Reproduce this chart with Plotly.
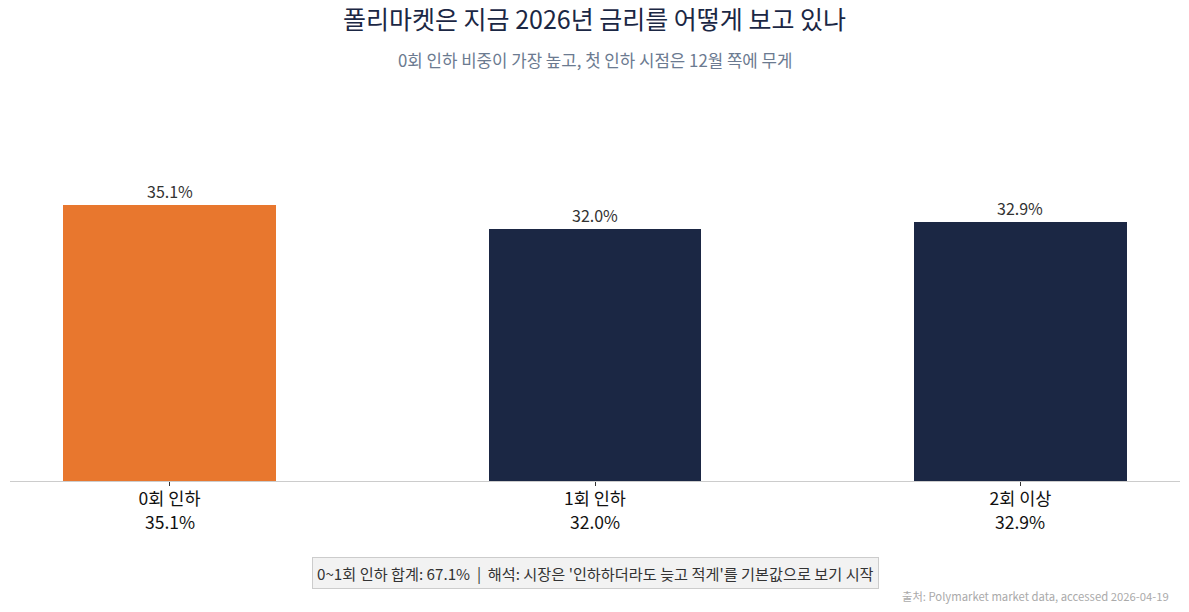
import plotly.graph_objects as go

categories = ["0회 인하", "1회 인하", "2회 이상"]
values = [35.1, 32.0, 32.9]
bar_colors = ["#E8772E", "#1B2744", "#1B2744"]
value_labels = [f"{v:.1f}%" for v in values]

title = "폴리마켓은 지금 2026년 금리를 어떻게 보고 있나"
subtitle = "0회 인하 비중이 가장 높고, 첫 인하 시점은 12월 쪽에 무게"
note = "0~1회 인하 합계: 67.1%  |  해석: 시장은 '인하하더라도 늦고 적게'를 기본값으로 보기 시작"
source = "출처: Polymarket market data, accessed 2026-04-19"

FONT = "Noto Sans CJK KR"
x = list(range(len(categories)))

fig = go.Figure()
fig.add_trace(go.Bar(
    x=x, y=values, width=0.5,
    marker=dict(color=bar_colors, line=dict(width=0)),
    hoverinfo="skip",
))

for xi, v, lab in zip(x, values, value_labels):
    fig.add_annotation(x=xi, y=v, text=lab, showarrow=False,
                       yanchor="bottom", yshift=0,
                       font=dict(family=FONT, size=16, color="#333333"))
    # second line of the category tick label (value)
    fig.add_annotation(x=xi, xref="x", yref="paper", y=1 - (521 - 136) / 345, text=lab,
                       showarrow=False, xanchor="center", yanchor="middle",
                       font=dict(family=FONT, size=17.5, color="#111111"))

fig.add_annotation(xref="paper", yref="paper", x=0.5, y=1 + (136 - 60) / 345, text=subtitle,
                   showarrow=False, xanchor="center", yanchor="middle",
                   font=dict(family=FONT, size=16.8, color="#6B7A90"))
fig.add_annotation(xref="paper", yref="paper", x=(595 - 10) / 1170, y=1 - (573 - 136) / 345,
                   text=note, showarrow=False, xanchor="center", yanchor="middle",
                   font=dict(family=FONT, size=15.2, color="#333333"),
                   bgcolor="#F2F2F2", bordercolor="#CCCCCC", borderwidth=1, borderpad=4)
fig.add_annotation(xref="paper", yref="paper", x=(1171 - 10) / 1170, y=1 - (596 - 136) / 345,
                   text=source, showarrow=False, xanchor="right", yanchor="middle",
                   font=dict(family=FONT, size=11.3, color="#AAAAAA"))

fig.update_layout(
    width=1189, height=612,
    margin=dict(l=10, r=9, t=136, b=131),
    paper_bgcolor="white", plot_bgcolor="white",
    showlegend=False,
    title=dict(text=title, x=0.5, xanchor="center", y=1 - 20 / 612, yanchor="middle",
               font=dict(family=FONT, size=25, color="#1B2744")),
    xaxis=dict(range=[-0.375, 2.375], tickmode="array", tickvals=x, ticktext=categories,
               tickfont=dict(family=FONT, size=17.5, color="#111111"),
               ticks="outside", ticklen=4, tickcolor="#333333", tickwidth=1,
               ticklabelstandoff=-2,
               showline=True, linecolor="#CCCCCC", linewidth=1,
               showgrid=False, zeroline=False, fixedrange=True),
    yaxis=dict(range=[0, 43.88], visible=False, showgrid=False, zeroline=False, fixedrange=True),
    bargap=0,
)

fig.write_html("out.html", config={"displayModeBar": False},
               post_script="document.body.style.margin='0';document.body.style.padding='0';")
